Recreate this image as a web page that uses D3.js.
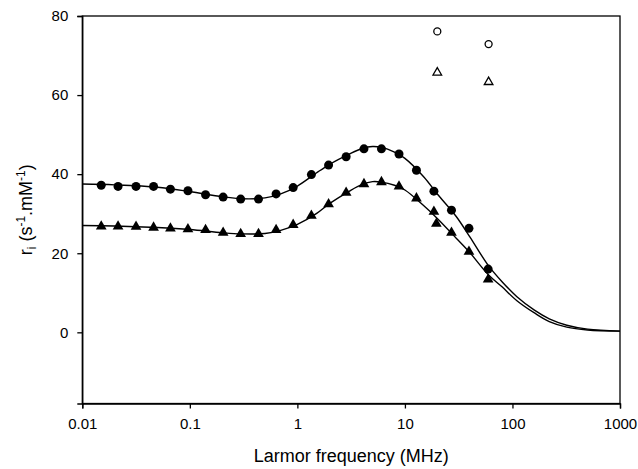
<!DOCTYPE html>
<html>
<head>
<meta charset="utf-8">
<script src="https://cdn.jsdelivr.net/npm/d3@7"></script>
<style>
  body { margin: 0; background: #fff; }
  text { font-family: "Liberation Sans", Arial, sans-serif; fill: #000; }
</style>
</head>
<body>
<script>
// measured relaxivity, filled circles
const circleFreq = [0.015, 0.0215, 0.0316, 0.046, 0.066, 0.096, 0.14, 0.204, 0.297, 0.435, 0.634, 0.914,
                    1.35, 1.95, 2.84, 4.16, 6.05, 8.81, 12.8, 18.6, 27.1, 39.4, 59.4];
const circleVal  = [37.2, 36.9, 36.9, 36.9, 36.2, 35.8, 34.8, 34.2, 33.7, 33.7, 35.0, 36.6,
                    39.9, 42.3, 44.4, 46.4, 46.4, 45.1, 41.0, 35.7, 30.9, 26.3, 16.0];

// filled triangles (one extra point near 20 MHz)
const triFreq = [0.015, 0.0215, 0.0316, 0.046, 0.066, 0.096, 0.14, 0.204, 0.297, 0.435, 0.634, 0.914,
                 1.35, 1.95, 2.84, 4.16, 6.05, 8.81, 12.8, 18.6, 19.6, 27.1, 39.4, 59.4];
const triVal  = [26.8, 26.8, 26.7, 26.5, 26.3, 26.1, 25.9, 25.2, 24.9, 24.9, 25.9, 27.2,
                 29.5, 32.4, 35.3, 37.5, 38.0, 36.9, 33.9, 30.5, 27.5, 25.2, 20.4, 13.4];

// open symbols at the top
const openFreq = [20, 60];
const openCircleVal = [76.1, 72.9];
const openTriVal = [65.7, 63.3];

// fitted curves
const fitFreq = [0.01, 0.02, 0.05, 0.1, 0.2, 0.3, 0.5, 0.7, 1, 1.5, 2, 3, 4, 5, 6, 8, 10, 15,
                 20, 30, 40, 60, 80, 110, 160, 220, 320, 500, 1000];
const fitUpper = [37.5, 37.3, 36.7, 35.6, 34.3, 33.8, 34.0, 35.0, 37.0, 40.3, 42.5, 45.0, 46.5, 47.0, 46.8, 45.6, 44.0, 39.3,
                  35.0, 29.3, 24.2, 16.8, 12.8, 9.0, 5.6, 3.4, 1.8, 0.8, 0.3];
const fitLower = [27.0, 26.9, 26.5, 26.0, 25.2, 24.9, 25.0, 25.8, 27.3, 30.0, 32.6, 35.6, 37.4, 38.1, 38.0, 37.2, 36.0, 32.0,
                  28.8, 23.8, 20.2, 14.5, 11.5, 8.0, 4.9, 2.7, 1.3, 0.6, 0.3];

const xTicks = [0.01, 0.1, 1, 10, 100, 1000];
const yTicks = [0, 20, 40, 60, 80];

const width = 638, height = 469;
const margin = {top: 16, right: 18, bottom: 65.5, left: 82.3};

const svg = d3.select("body").append("svg")
    .attr("width", width)
    .attr("height", height);

const x = d3.scaleLog().domain([0.01, 1000]).range([margin.left, width - margin.right]);
const y = d3.scaleLinear().domain([-18, 80]).range([height - margin.bottom, margin.top]);

// frame
svg.append("rect")
    .attr("x", x(0.01)).attr("y", y(80))
    .attr("width", x(1000) - x(0.01)).attr("height", y(-18) - y(80))
    .attr("fill", "none").attr("stroke", "#000").attr("stroke-width", 1.3);

const xAxis = svg.append("g")
    .attr("transform", `translate(0,${y(-18)})`)
    .call(d3.axisBottom(x).tickValues(xTicks).tickFormat(d => String(d)).tickSize(5).tickPadding(10));
const yAxis = svg.append("g")
    .attr("transform", `translate(${x(0.01)},0)`)
    .call(d3.axisLeft(y).tickValues(yTicks).tickSize(5).tickPadding(9));

[xAxis, yAxis].forEach(g => {
    g.select(".domain").attr("stroke-width", 1.3);
    g.selectAll(".tick line").attr("stroke-width", 1.3);
    g.selectAll("text").attr("font-size", 15).attr("font-family", "Liberation Sans, Arial, sans-serif");
});

// fitted lines
const line = d3.line()
    .x(d => x(d[0]))
    .y(d => y(d[1]))
    .curve(d3.curveCatmullRom);

[fitUpper, fitLower].forEach(vals => {
    svg.append("path")
        .datum(fitFreq.map((f, i) => [f, vals[i]]))
        .attr("d", line)
        .attr("fill", "none")
        .attr("stroke", "#000")
        .attr("stroke-width", 1.4);
});

// markers
svg.append("g").selectAll("circle")
    .data(circleFreq.map((f, i) => [f, circleVal[i]]))
    .enter().append("circle")
    .attr("cx", d => x(d[0]))
    .attr("cy", d => y(d[1]))
    .attr("r", 4.5)
    .attr("fill", "#000");

const triSym = d3.symbol().type(d3.symbolTriangle).size(50);
svg.append("g").selectAll("path")
    .data(triFreq.map((f, i) => [f, triVal[i]]))
    .enter().append("path")
    .attr("d", triSym)
    .attr("transform", d => `translate(${x(d[0])},${y(d[1])})`)
    .attr("fill", "#000");

svg.append("g").selectAll("circle")
    .data(openFreq.map((f, i) => [f, openCircleVal[i]]))
    .enter().append("circle")
    .attr("cx", d => x(d[0]))
    .attr("cy", d => y(d[1]))
    .attr("r", 3.5)
    .attr("fill", "none")
    .attr("stroke", "#000")
    .attr("stroke-width", 1.3);

const openTriSym = d3.symbol().type(d3.symbolTriangle).size(32);
svg.append("g").selectAll("path")
    .data(openFreq.map((f, i) => [f, openTriVal[i]]))
    .enter().append("path")
    .attr("d", openTriSym)
    .attr("transform", d => `translate(${x(d[0])},${y(d[1])})`)
    .attr("fill", "none")
    .attr("stroke", "#000")
    .attr("stroke-width", 1.3);

// axis titles
svg.append("text")
    .attr("x", (x(0.01) + x(1000)) / 2)
    .attr("y", 461.5)
    .attr("text-anchor", "middle")
    .attr("font-size", 18)
    .text("Larmor frequency (MHz)");

const yl = svg.append("text")
    .attr("transform", `translate(32,${(y(80) + y(-18)) / 2}) rotate(-90)`)
    .attr("text-anchor", "middle")
    .attr("font-size", 18);
yl.append("tspan").text("r");
yl.append("tspan").attr("font-size", 12).attr("dy", 4).text("i");
yl.append("tspan").attr("dy", -4).text(" (s");
yl.append("tspan").attr("font-size", 12).attr("dy", -7).text("-1");
yl.append("tspan").attr("dy", 7).text(".mM");
yl.append("tspan").attr("font-size", 12).attr("dy", -7).text("-1");
yl.append("tspan").attr("dy", 7).text(")");
</script>
</body>
</html>
